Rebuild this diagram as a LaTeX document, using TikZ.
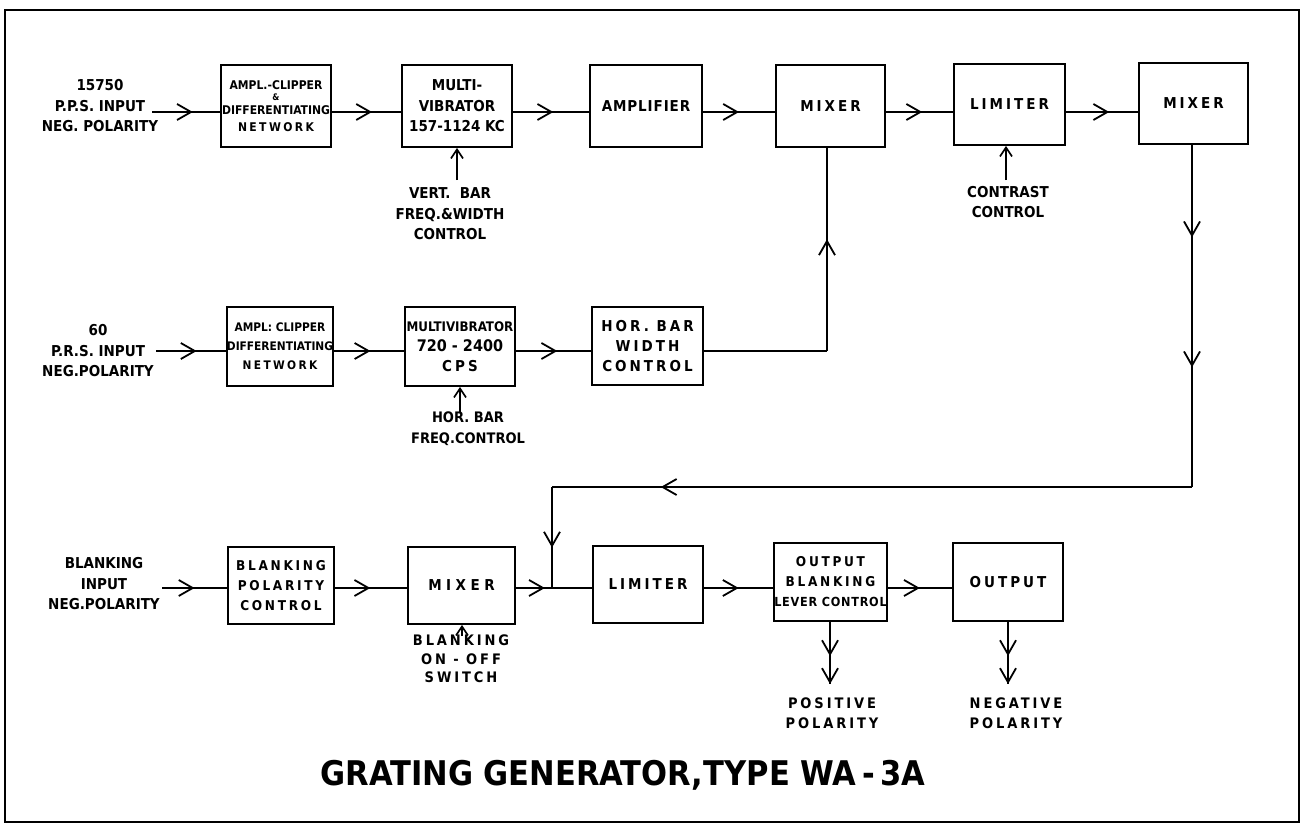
\documentclass[tikz,border=0pt]{standalone}
\usepackage{fontspec}
\setmainfont{DejaVu Sans Condensed}
\newfontfamily\spfont{DejaVu Sans Condensed}[LetterSpace=20]
\newfontfamily\wfont{DejaVu Sans Condensed}[LetterSpace=30]
\newfontfamily\nfont{DejaVu Sans Condensed}[LetterSpace=6]
\usetikzlibrary{arrows.meta,decorations.markings}
\tikzset{
  blk/.style={draw,line width=1.8pt,inner sep=0pt,align=center},
  lbl/.style={align=center,inner sep=0pt},
  wire/.style={line width=1.7pt},
  tip/.style={-{Straight Barb[length=9pt,width=12pt,line width=1.7pt]}},
  ma/.style={postaction={decorate},decoration={markings,
      mark=at position #1 with {\arrow{Straight Barb[length=14pt,width=16pt,line width=1.8pt]}}}},
  mb/.style 2 args={postaction={decorate},decoration={markings,
      mark=at position #1 with {\arrow{Straight Barb[length=14pt,width=16pt,line width=1.8pt]}},
      mark=at position #2 with {\arrow{Straight Barb[length=14pt,width=16pt,line width=1.8pt]}}}},
  fs/.style={font=\bfseries\fontsize{12}{17}\selectfont},
  fm/.style={font=\bfseries\fontsize{15}{20.5}\selectfont},
  fl/.style={font=\spfont\bfseries\fontsize{15}{20}\selectfont},
  fw/.style={font=\wfont\bfseries\fontsize{15}{20}\selectfont},
}
\begin{document}
\begin{tikzpicture}[x=1pt,y=-1pt]
\useasboundingbox (0,0) rectangle (1302,827);
\draw[line width=2.8pt] (5,10) rectangle (1299,822);

% row coordinates
\coordinate (r1) at (0,112);
\coordinate (r2) at (0,351);
\coordinate (r3) at (0,588);

% ---------- row 1 ----------
\node[lbl,fm] (in1) at (100,106) {15750\\P.P.S. INPUT\\NEG. POLARITY};
\coordinate (s1) at (152,112);
\node[blk,fs,minimum width=110pt,minimum height=82pt] (a1) at (276,106)
  {AMPL.-CLIPPER\\[-6pt]{\fontsize{9}{9}\selectfont\&}\\[-3pt]DIFFERENTIATING\\{\spfont NETWORK}};
\node[blk,fm,minimum width=110pt,minimum height=82pt] (v1) at (457,106)
  {MULTI-\\VIBRATOR\\157-1124 KC};
\node[blk,font=\nfont\bfseries\fontsize{15}{20}\selectfont,minimum width=112pt,minimum height=82pt] (amp) at (646,106) {AMPLIFIER};
\node[blk,fl,minimum width=109pt,minimum height=82pt] (mx1) at (830.5,106) {MIXER};
\node[blk,fl,minimum width=111pt,minimum height=81pt] (lim1) at (1009.5,104.5) {LIMITER};
\node[blk,fl,minimum width=109pt,minimum height=81pt] (mx2) at (1193.5,103.5) {MIXER};

\node[lbl,fm] (vbl) at (450,214) {VERT.\ \ BAR\\FREQ.\&WIDTH\\CONTROL};
\coordinate (vbt) at (457,180);
\node[lbl,fm] (ctl) at (1008,202) {CONTRAST\\CONTROL};
\coordinate (ctt) at (1006,180);

\draw[wire,ma=0.6] (s1) -- (a1.west |- r1);
\draw[wire,ma=0.58] (a1.east |- r1) -- (v1.west |- r1);
\draw[wire,ma=0.53] (v1.east |- r1) -- (amp.west |- r1);
\draw[wire,ma=0.5] (amp.east |- r1) -- (mx1.west |- r1);
\draw[wire,ma=0.54] (mx1.east |- r1) -- (lim1.west |- r1);
\draw[wire,ma=0.6] (lim1.east |- r1) -- (mx2.west |- r1);
\draw[wire,tip] (vbt) -- (v1.south);
\draw[wire,tip] (ctt) -- (lim1.south -| ctt);

% ---------- row 2 ----------
\node[lbl,fm] (in2) at (98,351) {60\\P.R.S. INPUT\\NEG.POLARITY};
\coordinate (s2) at (156,351);
\node[blk,font=\bfseries\fontsize{11.8}{19}\selectfont,minimum width=106pt,minimum height=79pt] (a2) at (280,346.5)
  {AMPL: CLIPPER\\DIFFERENTIATING\\{\spfont NETWORK}};
\node[blk,minimum width=110pt,minimum height=79pt,font=\bfseries\fontsize{15}{20}\selectfont] (v2) at (460,346.5)
  {{\fontsize{13.2}{20}\selectfont MULTIVIBRATOR}\\{\fontsize{16}{20}\selectfont 720 - 2400}\\{\spfont CPS}};
\node[blk,fl,minimum width=111pt,minimum height=78pt] (hb) at (647.5,346)
  {HOR. BAR\\WIDTH\\CONTROL};
\node[lbl,font=\bfseries\fontsize{14.5}{21}\selectfont] (hbl) at (468,429) {HOR. BAR\\FREQ.CONTROL};
\coordinate (hbt) at (460,412);
\coordinate (c3) at (827,351);

\draw[wire,ma=0.58] (s2) -- (a2.west |- r2);
\draw[wire,ma=0.52] (a2.east |- r2) -- (v2.west |- r2);
\draw[wire,ma=0.55] (v2.east |- r2) -- (hb.west |- r2);
\draw[wire] (hb.east |- r2) -- (c3);
\draw[wire,ma=0.55] (c3) -- (mx1.south -| c3);
\draw[wire,tip] (hbt) -- (v2.south -| hbt);

% ---------- feedback ----------
\coordinate (c1) at (1192,487);
\coordinate (c2) at (552,487);
\coordinate (jn) at (552,588);
\draw[wire,mb={0.27}{0.65}] (mx2.south -| c1) -- (c1);
\draw[wire,ma=0.83] (c1) -- (c2);
\draw[wire,ma=0.6] (c2) -- (jn);

% ---------- row 3 ----------
\node[lbl,fm] (in3) at (104,584) {BLANKING\\INPUT\\NEG.POLARITY};
\coordinate (s3) at (162,588);
\node[blk,font=\spfont\bfseries\fontsize{13.5}{20}\selectfont,minimum width=106pt,minimum height=77pt] (bp) at (281,585.5)
  {BLANKING\\POLARITY\\CONTROL};
\node[blk,fw,minimum width=107pt,minimum height=77pt] (mx3) at (461.5,585.5) {MIXER};
\node[blk,fl,minimum width=110pt,minimum height=77pt] (lim2) at (648,584.5) {LIMITER};
\node[blk,font=\spfont\bfseries\fontsize{13.5}{20}\selectfont,minimum width=109pt,minimum height=78pt] (ob) at (830.5,582)
  {OUTPUT\\BLANKING\\{\fontsize{12.5}{20}\selectfont\nfont\bfseries LEVER CONTROL}};
\node[blk,fl,minimum width=110pt,minimum height=78pt] (out) at (1008,582) {OUTPUT};

\node[lbl,font=\spfont\bfseries\fontsize{14.5}{18.5}\selectfont] (bsw) at (461,659) {BLANKING\\ON - OFF\\SWITCH};
\coordinate (bst) at (462,636);
\node[lbl,font=\spfont\bfseries\fontsize{14.5}{20}\selectfont] (pos) at (832,713) {POSITIVE\\POLARITY};
\node[lbl,font=\spfont\bfseries\fontsize{14.5}{20}\selectfont] (neg) at (1016,713) {NEGATIVE\\POLARITY};
\coordinate (pe) at (830,684);
\coordinate (ne) at (1008,684);

\draw[wire,ma=0.5] (s3) -- (bp.west |- r3);
\draw[wire,ma=0.49] (bp.east |- r3) -- (mx3.west |- r3);
\draw[wire,ma=0.38] (mx3.east |- r3) -- (lim2.west |- r3);
\draw[wire,ma=0.5] (lim2.east |- r3) -- (ob.west |- r3);
\draw[wire,ma=0.5] (ob.east |- r3) -- (out.west |- r3);
\draw[wire,tip] (bst) -- (mx3.south -| bst);
\draw[wire,mb={0.55}{1}] (ob.south -| pe) -- (pe);
\draw[wire,mb={0.55}{1}] (out.south -| ne) -- (ne);

% ---------- title ----------
\node[font=\bfseries\fontsize{34}{40}\selectfont] (title) at (623,775)
  {GRATING GENERATOR,TYPE WA\,-\,3A};
\end{tikzpicture}
\end{document}
